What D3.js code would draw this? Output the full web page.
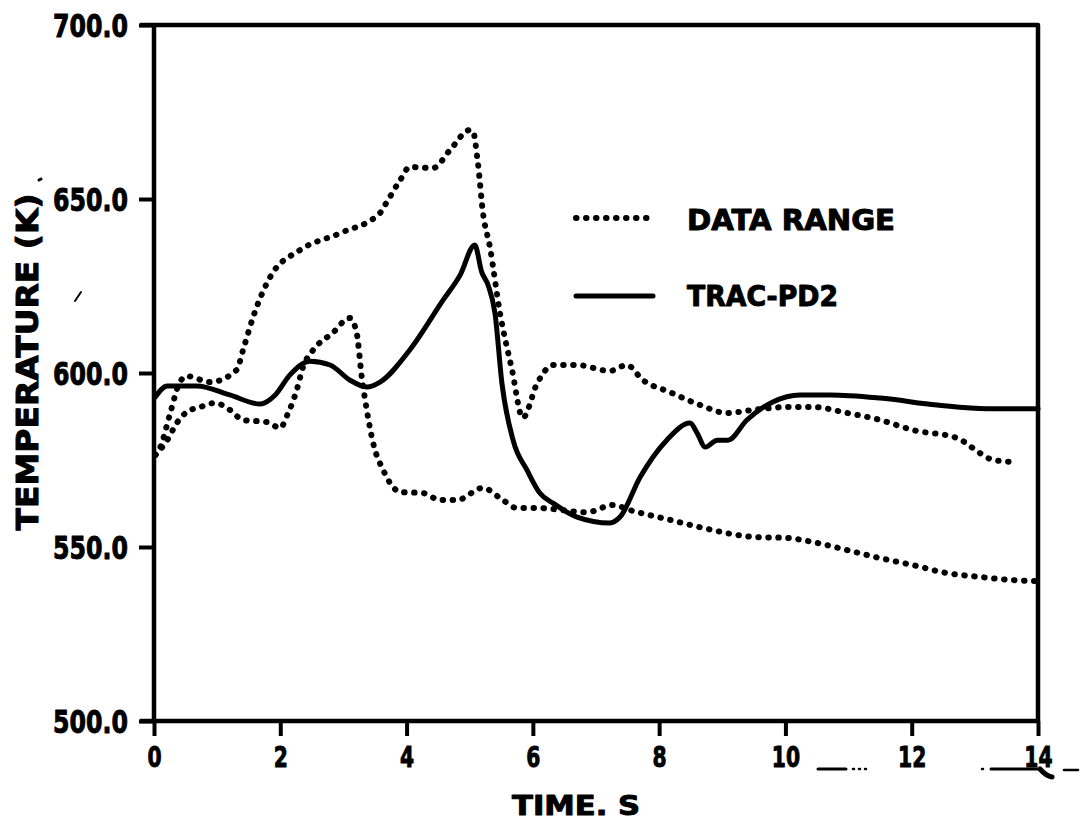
<!DOCTYPE html>
<html>
<head>
<meta charset="utf-8">
<script src="https://cdn.jsdelivr.net/npm/d3@7"></script>
<style>
  html, body { margin: 0; padding: 0; background: #fff; }
  svg { display: block; }
  text { font-family: "DejaVu Sans", sans-serif; font-weight: bold; fill: #000; stroke: #000; stroke-width: 1; stroke-linejoin: round; }
</style>
</head>
<body>
<svg id="chart" width="1083" height="823"></svg>
<script>
// Time (s) and temperature (K) samples for each curve
const pd2Time = [0.02, 0.21, 0.68, 1.2, 1.68, 1.92, 2.15, 2.47, 2.79, 3.1, 3.37, 3.58, 4.05, 4.58, 4.85, 5.08, 5.19, 5.29, 5.4, 5.51, 5.69, 5.91, 6.11, 6.32, 6.7, 7.22, 7.38, 7.7, 8.12, 8.49, 8.6, 8.73, 8.92, 9.09, 9.39, 9.8, 10.23, 10.71, 11.5, 12.4, 13.19, 14.0];
const pd2Temp = [593.1, 596.3, 596.3, 593.7, 591.1, 593.7, 599.4, 603.4, 602.3, 598.0, 596.0, 597.4, 606.6, 621.0, 628.2, 636.8, 629.0, 625.3, 617.2, 597.1, 580.5, 572.0, 565.5, 562.6, 558.6, 556.9, 558.6, 570.1, 580.7, 585.6, 582.8, 578.7, 580.7, 580.7, 586.5, 591.7, 593.7, 593.7, 592.8, 590.8, 589.7, 589.7];

const upperTime = [0.02, 0.1, 0.25, 0.41, 0.52, 0.89, 1.31, 1.41, 1.57, 1.84, 2.31, 2.95, 3.58, 3.66, 3.9, 4.05, 4.42, 4.69, 5.0, 5.05, 5.13, 5.21, 5.32, 5.48, 5.67, 5.84, 6.07, 6.32, 6.7, 7.22, 7.49, 7.74, 8.17, 8.65, 9.07, 9.49, 10.02, 10.44, 10.98, 11.5, 12.02, 12.72, 13.08, 13.29, 13.67];
const upperTemp = [576.4, 578.7, 588.0, 597.4, 599.1, 597.4, 600.9, 606.6, 616.1, 627.6, 635.3, 640.2, 646.0, 648.3, 655.5, 659.2, 658.9, 664.1, 669.8, 669.5, 660.3, 646.0, 636.2, 617.2, 600.9, 587.1, 597.1, 602.3, 602.3, 600.6, 602.3, 598.0, 594.5, 590.8, 588.5, 589.4, 590.2, 590.2, 588.5, 586.5, 583.6, 581.3, 577.0, 575.0, 574.4];

const lowerTime = [0.02, 0.21, 0.36, 0.52, 0.73, 0.97, 1.2, 1.41, 1.79, 2.0, 2.11, 2.26, 2.36, 2.52, 2.83, 3.1, 3.21, 3.29, 3.37, 3.47, 3.63, 3.9, 4.26, 4.53, 4.8, 5.21, 5.48, 5.75, 6.07, 6.86, 7.27, 7.54, 8.17, 8.69, 9.49, 10.02, 10.44, 10.98, 11.5, 12.02, 12.56, 13.08, 13.6, 14.0];
const lowerTemp = [576.4, 580.7, 585.6, 588.8, 590.2, 591.4, 589.4, 586.5, 585.9, 584.2, 587.9, 595.1, 601.7, 606.6, 611.5, 615.8, 611.5, 598.9, 589.4, 579.9, 572.1, 565.8, 565.5, 563.5, 563.5, 567.0, 564.1, 561.2, 561.2, 560.0, 562.1, 560.6, 557.8, 555.5, 552.9, 552.6, 551.4, 549.1, 546.8, 544.8, 542.5, 541.4, 540.5, 540.2];

const xTicks = [0, 2, 4, 6, 8, 10, 12, 14];
const yTicks = [500, 550, 600, 650, 700];
const legendLabels = ["DATA RANGE", "TRAC-PD2"];

const svg = d3.select("#chart");
const plotLeft = 154, plotRight = 1038, plotTop = 25, plotBottom = 721;

const x = d3.scaleLinear().domain([0, 14]).range([plotLeft, plotRight]);
const y = d3.scaleLinear().domain([500, 700]).range([plotBottom, plotTop]);

// squeeze bold text horizontally to a narrow lettering
function squeeze(sel, k) {
  sel.each(function () {
    const w = this.getComputedTextLength();
    d3.select(this).attr("textLength", w * k).attr("lengthAdjust", "spacingAndGlyphs");
  });
}

// axes
const xAxis = d3.axisBottom(x).tickValues(xTicks).tickSize(15).tickFormat(d3.format("d"));
const yAxis = d3.axisLeft(y).tickValues(yTicks).tickSize(15).tickFormat(d3.format(".1f"));

const gx = svg.append("g").attr("transform", `translate(0,${plotBottom})`).call(xAxis);
const gy = svg.append("g").attr("transform", `translate(${plotLeft},0)`).call(yAxis);

[gx, gy].forEach(g => {
  g.select(".domain").remove();
  g.selectAll(".tick line").attr("stroke", "#000").attr("stroke-width", 4);
});
gx.selectAll(".tick text")
  .attr("y", 25).attr("dy", "0.71em")
  .style("font-size", "29px").attr("fill", "#000")
  .call(squeeze, 0.7);
gy.selectAll(".tick text")
  .attr("x", -26).attr("dy", "0.36em")
  .style("font-size", "32px").attr("fill", "#000")
  .call(squeeze, 0.74);

// frame
svg.append("path")
  .attr("d", `M${plotLeft - 14},${plotTop} L${plotRight},${plotTop} L${plotRight},${plotBottom} M${plotLeft - 14},${plotBottom} L${plotRight},${plotBottom} M${plotLeft},${plotTop} L${plotLeft},${plotBottom + 2}`)
  .attr("fill", "none").attr("stroke", "#000").attr("stroke-width", 4.5)
  .attr("stroke-linejoin", "round");

// curves
const line = d3.line().x(d => x(d[0])).y(d => y(d[1])).curve(d3.curveMonotoneX);
const zip = (a, b) => a.map((v, i) => [v, b[i]]);

const dotted = { stroke: "#000", "stroke-width": 6, "stroke-dasharray": "0.5 9.5", "stroke-linecap": "round", fill: "none" };
function applyStyle(sel, s) { Object.entries(s).forEach(([k, v]) => sel.attr(k, v)); return sel; }

applyStyle(svg.append("path").attr("d", line(zip(upperTime, upperTemp))), dotted);
applyStyle(svg.append("path").attr("d", line(zip(lowerTime, lowerTemp))), dotted);

svg.append("path")
  .attr("d", line(zip(pd2Time, pd2Temp)))
  .attr("fill", "none").attr("stroke", "#000").attr("stroke-width", 5)
  .attr("stroke-linejoin", "round").attr("stroke-linecap", "round");

// legend
const legend = svg.append("g");
applyStyle(legend.append("line").attr("x1", 576).attr("x2", 650).attr("y1", 218).attr("y2", 218), dotted);
legend.append("line").attr("x1", 576).attr("x2", 653).attr("y1", 296).attr("y2", 296)
  .attr("stroke", "#000").attr("stroke-width", 5).attr("stroke-linecap", "round");
legend.selectAll("text").data(legendLabels).join("text")
  .attr("x", 687).attr("y", (d, i) => i === 0 ? 220 : 296).attr("dy", "0.36em")
  .style("font-size", "28px")
  .attr("textLength", (d, i) => i === 0 ? 208 : 151)
  .attr("lengthAdjust", "spacingAndGlyphs")
  .text(d => d);

// axis titles
svg.append("text")
  .attr("transform", "translate(27,362) rotate(-90)")
  .attr("text-anchor", "middle").attr("dy", "0.36em")
  .style("font-size", "31px")
  .attr("textLength", 337).attr("lengthAdjust", "spacingAndGlyphs")
  .text("TEMPERATURE (K)");

svg.append("text")
  .attr("x", 576).attr("y", 805)
  .attr("text-anchor", "middle").attr("dy", "0.36em")
  .style("font-size", "27px")
  .attr("textLength", 128).attr("lengthAdjust", "spacingAndGlyphs")
  .text("TIME. S");

// stray pen marks along the bottom axis
const marks = svg.append("g").attr("stroke", "#000").attr("fill", "none").attr("stroke-linecap", "round");
marks.append("line").attr("x1", 818).attr("x2", 846).attr("y1", 769).attr("y2", 769).attr("stroke-width", 3);
marks.append("line").attr("x1", 853).attr("x2", 866).attr("y1", 769).attr("y2", 769).attr("stroke-width", 2.5).attr("stroke-dasharray", "1 5");
marks.append("line").attr("x1", 982).attr("x2", 988).attr("y1", 769).attr("y2", 769).attr("stroke-width", 2.5).attr("stroke-dasharray", "1 5");
marks.append("line").attr("x1", 991).attr("x2", 1040).attr("y1", 769).attr("y2", 769).attr("stroke-width", 3);
marks.append("path").attr("d", "M1040,769 Q1046,776 1052,777").attr("stroke-width", 5);
marks.append("line").attr("x1", 1064).attr("x2", 1078).attr("y1", 770).attr("y2", 770).attr("stroke-width", 2.5);
marks.append("line").attr("x1", 75).attr("x2", 81).attr("y1", 301).attr("y2", 292).attr("stroke-width", 2);
marks.append("line").attr("x1", 39).attr("x2", 41).attr("y1", 180).attr("y2", 179).attr("stroke-width", 3);
</script>
</body>
</html>
